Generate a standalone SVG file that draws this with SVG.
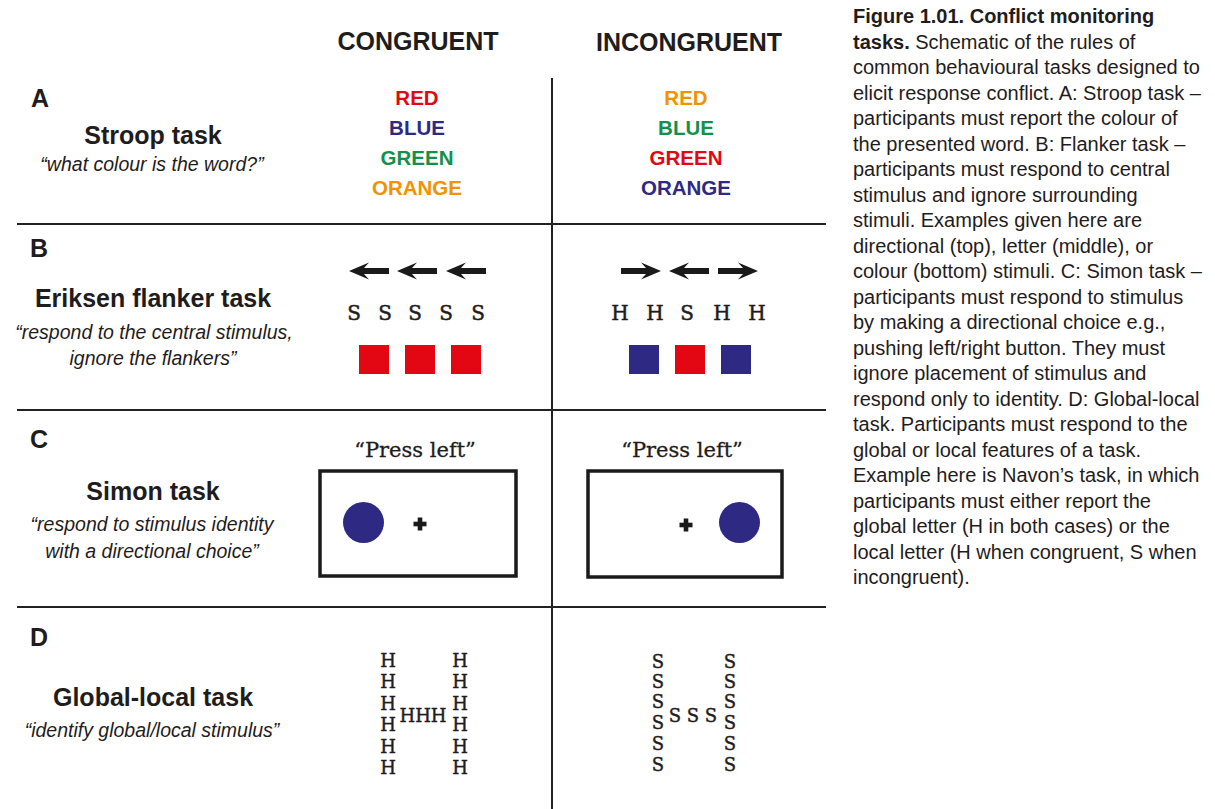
<svg xmlns="http://www.w3.org/2000/svg" width="1215" height="809" viewBox="0 0 1215 809">
<style>
  .head{font-family:"Liberation Sans",Arial,sans-serif;font-weight:bold;font-size:25px;fill:#1f1c1d;text-anchor:middle}
  .letter{font-family:"Liberation Sans",Arial,sans-serif;font-weight:bold;font-size:25px;fill:#1f1c1d}
  .task{font-family:"Liberation Sans",Arial,sans-serif;font-weight:bold;font-size:25px;fill:#1f1c1d;text-anchor:middle}
  .sub{font-family:"Liberation Sans",Arial,sans-serif;font-style:italic;font-size:19.5px;fill:#1f1c1d;text-anchor:middle}
  .word{font-family:"Liberation Sans",Arial,sans-serif;font-weight:bold;font-size:20.5px;text-anchor:middle}
  .slab{font-family:"DejaVu Serif","Liberation Serif",serif;font-size:20px;fill:#1f1c1d;stroke:#1f1c1d;stroke-width:0.5;text-anchor:middle}
  .nav{font-family:"DejaVu Serif","Liberation Serif",serif;font-size:18px;fill:#1f1c1d;stroke:#1f1c1d;stroke-width:0.4;text-anchor:middle}
  .press{font-family:"DejaVu Serif","Liberation Serif",serif;font-size:21px;fill:#1f1c1d;stroke:#1f1c1d;stroke-width:0.3;text-anchor:middle}
  .cap{font-family:"Liberation Sans",Arial,sans-serif;font-size:20px;fill:#1f1c1d}
  .rule{stroke:#222;stroke-width:2;fill:none}
  .box{stroke:#1a1a1a;stroke-width:3.5;fill:none}
  .red{fill:#e30613}.blue{fill:#2e2a83}.green{fill:#13904a}.orange{fill:#f39200}
</style>
<defs>
  <path id="arrowL" d="M0,0 L20,-8.5 L15,-3 L40,-3 L40,3 L15,3 L20,8.5 Z" fill="#1a1a1a"/>
  <g id="plus"><rect x="-6.5" y="-2.3" width="13" height="4.6" fill="#1a1a1a"/><rect x="-2.3" y="-6.5" width="4.6" height="13" fill="#1a1a1a"/></g>
</defs>
<rect width="1215" height="809" fill="#fff"/>

<g id="connectors">
  <line class="rule" x1="552" y1="78" x2="552" y2="809"/>
  <line class="rule" x1="17" y1="224" x2="826" y2="224"/>
  <line class="rule" x1="17" y1="410" x2="826" y2="410"/>
  <line class="rule" x1="17" y1="607" x2="826" y2="607"/>
</g>

<g id="column-headers">
  <text class="head" x="418" y="50">CONGRUENT</text>
  <text class="head" x="689" y="51">INCONGRUENT</text>
</g>

<g id="row-A">
  <text class="letter" x="31" y="107">A</text>
  <text class="task" x="153" y="144">Stroop task</text>
  <text class="sub" x="152" y="171">“what colour is the word?”</text>
</g>
<g id="stroop-congruent">
  <text class="word red" x="417" y="105">RED</text>
  <text class="word blue" x="417" y="135">BLUE</text>
  <text class="word green" x="417" y="165">GREEN</text>
  <text class="word orange" x="417" y="195">ORANGE</text>
</g>
<g id="stroop-incongruent">
  <text class="word orange" x="686" y="105">RED</text>
  <text class="word green" x="686" y="135">BLUE</text>
  <text class="word red" x="686" y="165">GREEN</text>
  <text class="word blue" x="686" y="195">ORANGE</text>
</g>

<g id="row-B">
  <text class="letter" x="30" y="257">B</text>
  <text class="task" x="153" y="307">Eriksen flanker task</text>
  <text class="sub" x="154" y="339">“respond to the central stimulus,</text>
  <text class="sub" x="153" y="365">ignore the flankers”</text>
</g>
<g id="flanker-congruent">
  <use href="#arrowL" x="349" y="271"/>
  <use href="#arrowL" x="397" y="271"/>
  <use href="#arrowL" x="446" y="271"/>
  <text class="slab" x="354" y="320">S</text>
  <text class="slab" x="385" y="320">S</text>
  <text class="slab" x="415" y="320">S</text>
  <text class="slab" x="446" y="320">S</text>
  <text class="slab" x="478" y="320">S</text>
  <rect class="red" x="359" y="345" width="30" height="29"/>
  <rect class="red" x="405" y="345" width="30" height="29"/>
  <rect class="red" x="451" y="345" width="30" height="29"/>
</g>
<g id="flanker-incongruent">
  <use href="#arrowL" transform="translate(661,271) scale(-1,1)"/>
  <use href="#arrowL" x="669" y="271"/>
  <use href="#arrowL" transform="translate(758,271) scale(-1,1)"/>
  <text class="slab" x="620" y="320">H</text>
  <text class="slab" x="655" y="320">H</text>
  <text class="slab" x="687" y="320">S</text>
  <text class="slab" x="722" y="320">H</text>
  <text class="slab" x="757" y="320">H</text>
  <rect class="blue" x="629" y="345" width="30" height="29"/>
  <rect class="red" x="675" y="345" width="30" height="29"/>
  <rect class="blue" x="721" y="345" width="30" height="29"/>
</g>

<g id="row-C">
  <text class="letter" x="30" y="448">C</text>
  <text class="task" x="153" y="500">Simon task</text>
  <text class="sub" x="152" y="531">“respond to stimulus identity</text>
  <text class="sub" x="152" y="558">with a directional choice”</text>
</g>
<g id="simon-congruent">
  <text class="press" x="415" y="457">“Press left”</text>
  <rect class="box" x="320" y="471" width="196" height="105"/>
  <circle class="blue" cx="363.5" cy="522.5" r="20.5"/>
  <use href="#plus" x="420" y="524"/>
</g>
<g id="simon-incongruent">
  <text class="press" x="682" y="457">“Press left”</text>
  <rect class="box" x="588" y="471" width="194" height="106"/>
  <use href="#plus" x="686" y="525"/>
  <circle class="blue" cx="739.5" cy="522.5" r="20.5"/>
</g>

<g id="row-D">
  <text class="letter" x="30" y="646">D</text>
  <text class="task" x="153" y="706">Global-local task</text>
  <text class="sub" x="152" y="737">“identify global/local stimulus”</text>
</g>
<g id="navon-congruent">
  <text class="nav" x="388" y="667">H</text>
  <text class="nav" x="388" y="688">H</text>
  <text class="nav" x="388" y="710">H</text>
  <text class="nav" x="388" y="731">H</text>
  <text class="nav" x="388" y="753">H</text>
  <text class="nav" x="388" y="774">H</text>
  <text class="nav" x="423" y="722">HHH</text>
  <text class="nav" x="460" y="667">H</text>
  <text class="nav" x="460" y="688">H</text>
  <text class="nav" x="460" y="710">H</text>
  <text class="nav" x="460" y="731">H</text>
  <text class="nav" x="460" y="753">H</text>
  <text class="nav" x="460" y="774">H</text>
</g>
<g id="navon-incongruent">
  <text class="nav" x="658" y="668">S</text>
  <text class="nav" x="658" y="688">S</text>
  <text class="nav" x="658" y="708">S</text>
  <text class="nav" x="658" y="729">S</text>
  <text class="nav" x="658" y="750">S</text>
  <text class="nav" x="658" y="771">S</text>
  <text class="nav" x="675" y="722">S</text>
  <text class="nav" x="693" y="722">S</text>
  <text class="nav" x="711" y="722">S</text>
  <text class="nav" x="730" y="668">S</text>
  <text class="nav" x="730" y="688">S</text>
  <text class="nav" x="730" y="708">S</text>
  <text class="nav" x="730" y="729">S</text>
  <text class="nav" x="730" y="750">S</text>
  <text class="nav" x="730" y="771">S</text>
</g>

<g id="caption">
  <text class="cap" x="853" y="23" font-weight="bold">Figure 1.01. Conflict monitoring</text>
  <text class="cap" x="853" y="48.5"><tspan font-weight="bold">tasks.</tspan> Schematic of the rules of</text>
  <text class="cap" x="853" y="74">common behavioural tasks designed to</text>
  <text class="cap" x="853" y="99.5">elicit response conflict. A: Stroop task –</text>
  <text class="cap" x="853" y="125">participants must report the colour of</text>
  <text class="cap" x="853" y="150.5">the presented word. B: Flanker task –</text>
  <text class="cap" x="853" y="176">participants must respond to central</text>
  <text class="cap" x="853" y="201.5">stimulus and ignore surrounding</text>
  <text class="cap" x="853" y="227">stimuli. Examples given here are</text>
  <text class="cap" x="853" y="252.5">directional (top), letter (middle), or</text>
  <text class="cap" x="853" y="278">colour (bottom) stimuli. C: Simon task –</text>
  <text class="cap" x="853" y="303.5">participants must respond to stimulus</text>
  <text class="cap" x="853" y="329">by making a directional choice e.g.,</text>
  <text class="cap" x="853" y="354.5">pushing left/right button. They must</text>
  <text class="cap" x="853" y="380">ignore placement of stimulus and</text>
  <text class="cap" x="853" y="405.5">respond only to identity. D: Global-local</text>
  <text class="cap" x="853" y="431">task. Participants must respond to the</text>
  <text class="cap" x="853" y="456.5">global or local features of a task.</text>
  <text class="cap" x="853" y="482">Example here is Navon’s task, in which</text>
  <text class="cap" x="853" y="507.5">participants must either report the</text>
  <text class="cap" x="853" y="533">global letter (H in both cases) or the</text>
  <text class="cap" x="853" y="558.5">local letter (H when congruent, S when</text>
  <text class="cap" x="853" y="584">incongruent).</text>
</g>
</svg>
